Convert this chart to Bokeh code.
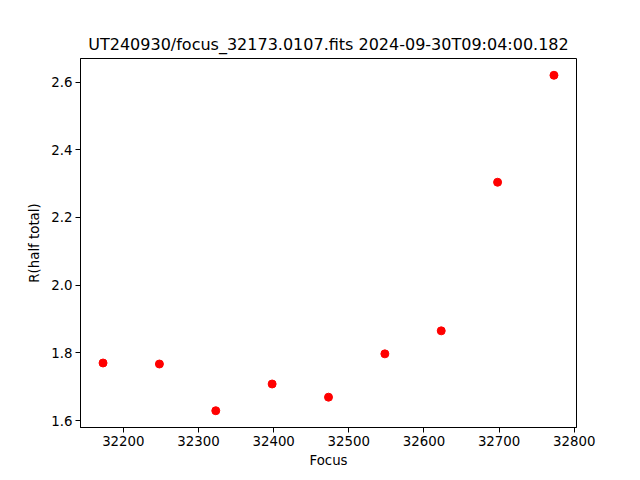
from bokeh.plotting import figure
from bokeh.models import FixedTicker, Range1d
from bokeh.embed import file_html
from bokeh.resources import INLINE

focus = [32173, 32248, 32323, 32398, 32473, 32548, 32623, 32698, 32773]
r_half = [1.770, 1.767, 1.629, 1.708, 1.669, 1.797, 1.865, 2.304, 2.620]
x_ticks = [32200, 32300, 32400, 32500, 32600, 32700, 32800]
y_ticks = [1.6, 1.8, 2.0, 2.2, 2.4, 2.6]
y_tick_labels = ["1.6", "1.8", "2.0", "2.2", "2.4", "2.6"]
title = "UT240930/focus_32173.0107.fits 2024-09-30T09:04:00.182"

xpad = (max(focus) - min(focus)) * 0.05
ypad = (max(r_half) - min(r_half)) * 0.05

p = figure(width=632, height=472, output_backend="svg", toolbar_location=None,
           title=title,
           x_range=Range1d(min(focus) - xpad, max(focus) + xpad),
           y_range=Range1d(min(r_half) - ypad, max(r_half) + ypad),
           min_border_left=80, min_border_right=56, min_border_top=58, min_border_bottom=45)

p.scatter(focus, r_half, size=8, color="red", line_color="red")

font = "DejaVu Sans"
p.title.text_font = font
p.title.text_font_size = "12pt"
p.title.text_font_style = "normal"
p.title.align = "center"
p.title.text_color = "black"

p.xgrid.visible = False
p.ygrid.visible = False
p.outline_line_color = "black"
p.outline_line_width = 1
p.outline_line_alpha = 1

for ax in (p.xaxis, p.yaxis):
    ax.axis_line_color = "black"
    ax.major_tick_line_color = "black"
    ax.major_tick_out = 5
    ax.major_tick_in = 0
    ax.minor_tick_line_color = None
    ax.major_label_text_font = font
    ax.major_label_text_font_size = "10pt"
    ax.major_label_text_color = "black"
    ax.axis_label_text_font = font
    ax.axis_label_text_font_size = "10pt"
    ax.axis_label_text_font_style = "normal"
    ax.axis_label_text_color = "black"

p.xaxis.axis_label = "Focus"
p.yaxis.axis_label = "R(half total)"
p.xaxis.ticker = FixedTicker(ticks=x_ticks)
p.yaxis.ticker = FixedTicker(ticks=y_ticks)
p.yaxis.major_label_overrides = dict(zip(y_ticks, y_tick_labels))
p.xaxis.major_label_standoff = 3
p.yaxis.major_label_standoff = 3
p.xaxis.axis_label_standoff = 4
p.yaxis.axis_label_standoff = 6

open("out.html", "w").write(file_html(p, INLINE))
